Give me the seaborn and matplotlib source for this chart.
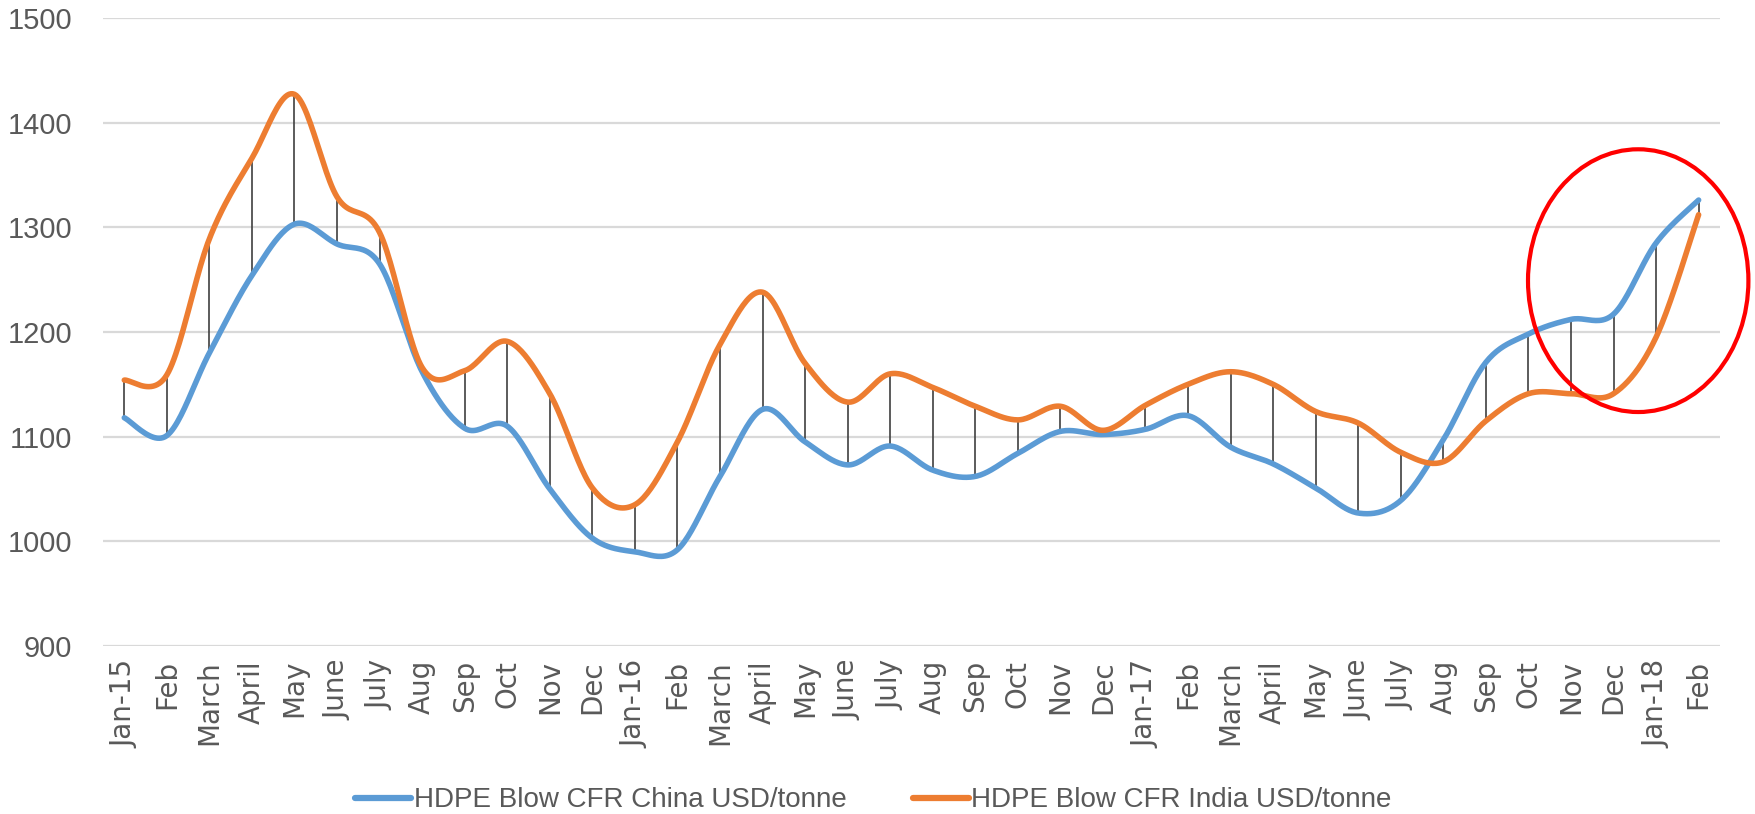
import numpy as np
import pandas as pd
import matplotlib
matplotlib.use("Agg")
import matplotlib.pyplot as plt
from matplotlib.patches import Ellipse
import seaborn as sns

months = ["Jan-15", "Feb", "March", "April", "May", "June", "July", "Aug", "Sep", "Oct", "Nov", "Dec",
          "Jan-16", "Feb", "March", "April", "May", "June", "July", "Aug", "Sep", "Oct", "Nov", "Dec",
          "Jan-17", "Feb", "March", "April", "May", "June", "July", "Aug", "Sep", "Oct", "Nov", "Dec",
          "Jan-18", "Feb"]

china = [1118, 1101, 1180, 1254, 1303, 1284, 1265, 1162, 1108, 1110, 1050, 1003,
         990, 992, 1062, 1126, 1095, 1073, 1091, 1068, 1062, 1084, 1105, 1102,
         1107, 1120, 1090, 1074, 1051, 1027, 1039, 1097, 1171, 1198, 1212, 1217,
         1285, 1326]

india = [1154, 1159, 1289, 1366, 1427, 1329, 1295, 1166, 1163, 1191, 1141, 1051,
         1035, 1095, 1188, 1238, 1170, 1133, 1160, 1147, 1129, 1116, 1129, 1106,
         1130, 1150, 1162, 1150, 1124, 1113, 1085, 1076, 1115, 1141, 1141, 1141,
         1195, 1312]

series_names = ["HDPE Blow CFR China USD/tonne", "HDPE Blow CFR India USD/tonne"]
series_colors = ["#5B9BD5", "#ED7D31"]

y_ticks = [900, 1000, 1100, 1200, 1300, 1400, 1500]


def smooth(values, steps=24):
    """Catmull-Rom curve through the monthly points, like a smoothed line chart."""
    y = np.asarray(values, dtype=float)
    x = np.arange(len(y), dtype=float)
    px = np.concatenate([[x[0]], x, [x[-1]]])
    py = np.concatenate([[y[0]], y, [y[-1]]])
    xs, ys = [], []
    for i in range(1, len(px) - 2):
        p0, p1, p2, p3 = (np.array([px[j], py[j]]) for j in (i - 1, i, i + 1, i + 2))
        c1 = p1 + (p2 - p0) / 6.0
        c2 = p2 - (p3 - p1) / 6.0
        t = np.linspace(0, 1, steps, endpoint=(i == len(px) - 3))[:, None]
        pts = ((1 - t) ** 3) * p1 + 3 * ((1 - t) ** 2) * t * c1 + 3 * (1 - t) * t ** 2 * c2 + t ** 3 * p2
        xs.append(pts[:, 0])
        ys.append(pts[:, 1])
    return np.concatenate(xs), np.concatenate(ys)


sns.set_theme(style="white")
plt.rcParams["font.family"] = ["Liberation Sans", "DejaVu Sans"]

fig = plt.figure(figsize=(17.55, 8.14), dpi=100)
ax = fig.add_axes([0.0587, 0.2064, 0.9213, 0.7716])

# high-low lines between the two series
idx = np.arange(len(months))
ax.vlines(idx, np.minimum(china, india), np.maximum(china, india),
          color="#404040", linewidth=1.2, zorder=2)

for name, vals, col in zip(series_names, [china, india], series_colors):
    sx, sy = smooth(vals)
    df = pd.DataFrame({"x": sx, "y": sy})
    sns.lineplot(data=df, x="x", y="y", sort=False, ax=ax, color=col,
                 linewidth=4.0, label=name, zorder=3, solid_capstyle="round")

ax.set_xlim(-0.5, len(months) - 0.5)
ax.set_ylim(900, 1500)
ax.set_yticks(y_ticks)
ax.set_yticklabels([str(v) for v in y_ticks])
ax.set_xticks(idx)
ax.set_xticklabels(months, rotation=90, family=["DejaVu Sans"], fontsize=20, color="#595959")
ax.tick_params(axis="x", length=0, pad=10)
ax.tick_params(axis="y", length=0, pad=22, labelsize=21, labelcolor="#595959")
ax.set_xlabel("")
ax.set_ylabel("")
ax.grid(axis="y", color="#D9D9D9", linewidth=1.6)
ax.grid(axis="x", visible=False)
for s in ax.spines.values():
    s.set_visible(False)

# highlight of the latest months
ax.add_patch(Ellipse((35.58, 1249), width=5.18, height=251, fill=False,
                     edgecolor="#FF0000", linewidth=3.0, clip_on=False, zorder=4))

leg = ax.legend(loc="center", bbox_to_anchor=(0.4765, -0.246), ncol=2, frameon=False,
                fontsize=20, handlelength=2.0, columnspacing=2.4, handletextpad=0.1,
                borderpad=0.0, labelcolor="#595959")
for line in leg.get_lines():
    line.set_linewidth(4.5)

fig.savefig("out.png", dpi=100, facecolor="white")
